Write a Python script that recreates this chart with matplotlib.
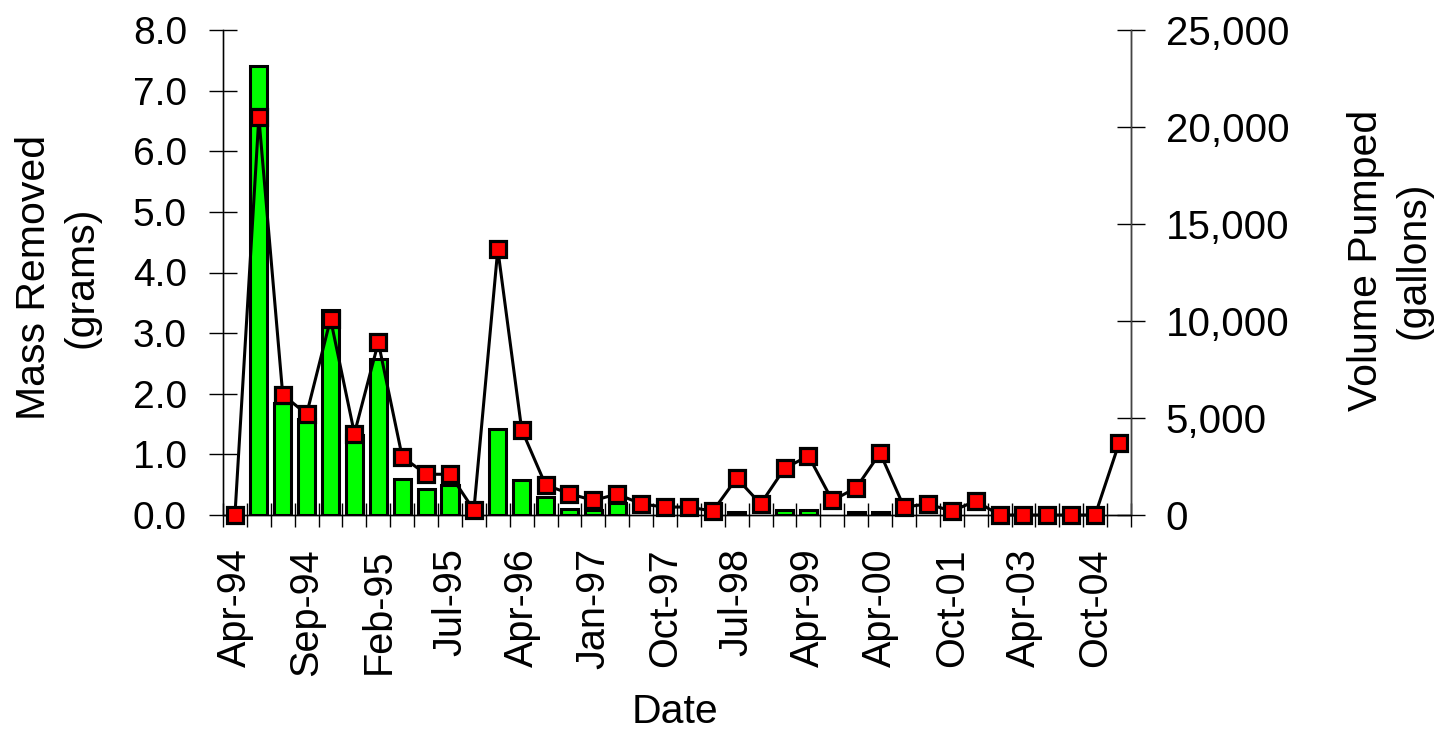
import matplotlib
matplotlib.use("Agg")
import matplotlib.pyplot as plt
from matplotlib.ticker import FuncFormatter, MultipleLocator, FixedLocator

plt.rcParams['font.family'] = ['Liberation Sans', 'DejaVu Sans']

# mass removed per sampling event (grams), left axis
mass = [0, 7.4, 1.85, 1.58, 3.38, 1.32, 2.58, 0.59, 0.43, 0.5,
        0, 1.42, 0.57, 0.3, 0.1, 0.08, 0.2, 0, 0, 0,
        0, 0.05, 0, 0.08, 0.08, 0, 0.05, 0.05, 0, 0,
        0, 0, 0, 0, 0, 0, 0, 0]
# volume pumped per sampling event (gallons), right axis
volume = [0, 20500, 6200, 5200, 10100, 4200, 8900, 3000, 2100, 2100,
          250, 13700, 4400, 1550, 1100, 750, 1080, 570, 410, 410,
          200, 1900, 570, 2400, 3050, 750, 1400, 3200, 410, 570,
          200, 720, 0, 0, 0, 0, 0, 3700]
date_labels = ["Apr-94", "Sep-94", "Feb-95", "Jul-95", "Apr-96", "Jan-97",
               "Oct-97", "Jul-98", "Apr-99", "Apr-00", "Oct-01", "Apr-03",
               "Oct-04"]
LABEL_EVERY = 3

n = len(mass)
xs = list(range(n))

fig = plt.figure(figsize=(14.38, 7.35), dpi=100)
ax = fig.add_axes([223 / 1438, 1 - 515 / 735, 908 / 1438, 485 / 735])
ax2 = ax.twinx()

# only events with some mass get a bar
bx = [x for x, m in zip(xs, mass) if m > 0]
bm = [m for m in mass if m > 0]
ax.bar(bx, bm, width=0.72, color='#00ff00', edgecolor='black',
       linewidth=2.2, zorder=2)
ax2.plot(xs, volume, color='black', linewidth=2.2, marker='s',
         markersize=12, markerfacecolor='#ff0000', markeredgecolor='black',
         markeredgewidth=2.3, clip_on=False, zorder=3)

ax.set_xlim(-0.5, n - 0.5)
ax.set_ylim(0, 8)
ax2.set_ylim(0, 25000)

for a in (ax, ax2):
    a.spines['top'].set_visible(False)
    for s in a.spines.values():
        s.set_linewidth(1.0)
ax.spines['left'].set_color('#444444')
ax2.spines['right'].set_color('#444444')

# y axes
ax.yaxis.set_major_locator(MultipleLocator(1))
ax.yaxis.set_major_formatter(FuncFormatter(lambda v, p: "%.1f" % v))
ax.tick_params(axis='y', direction='inout', length=20, width=1,
               labelsize=28, pad=16)
ax2.yaxis.set_major_locator(MultipleLocator(5000))
ax2.yaxis.set_major_formatter(FuncFormatter(lambda v, p: "{:,.0f}".format(v)))
ax2.tick_params(axis='y', direction='inout', length=20, width=1,
                labelsize=29, pad=15)

# x axis: ticks between categories, labels at every third category
ax.xaxis.set_major_locator(FixedLocator(xs[::LABEL_EVERY]))
ax.set_xticklabels(date_labels, rotation=90)
ax.xaxis.set_minor_locator(FixedLocator([i - 0.5 for i in range(n + 1)]))
ax.tick_params(axis='x', which='major', length=0, labelsize=28.5, pad=24)
ax.tick_params(axis='x', which='minor', direction='inout', length=17, width=1)

ax.set_xlabel("Date", fontsize=29.5)
ax.xaxis.set_label_coords(0.498, -0.368)
ax.set_ylabel("Mass Removed\n(grams)", fontsize=29.5, ha='center',
              va='center', linespacing=1.32)
ax.yaxis.set_label_coords(-0.182, 0.49)
ax2.set_ylabel("Volume Pumped\n(gallons)", fontsize=29.5, ha='center',
               va='center', linespacing=1.32, rotation=90)
ax2.yaxis.set_label_coords(1.285, 0.525)

fig.savefig("out.png", dpi=100)
